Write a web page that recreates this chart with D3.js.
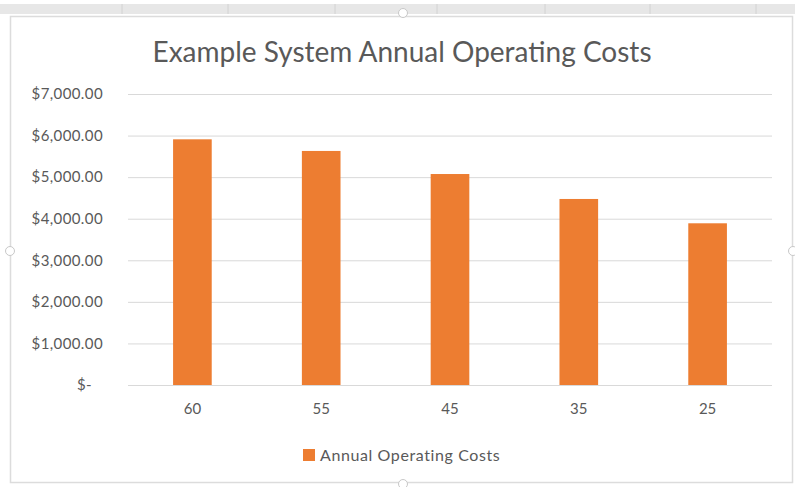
<!DOCTYPE html>
<html>
<head>
<meta charset="utf-8">
<script src="https://cdn.jsdelivr.net/npm/d3@7"></script>
<style>
  body { margin: 0; background: #fff; }
  svg { display: block; }
</style>
</head>
<body>
<div id="chart"></div>
<script>
// chart data
var categories = ["60", "55", "45", "35", "25"];
var costs = [5910, 5630, 5075, 4475, 3890];
var yTicks = [0, 1000, 2000, 3000, 4000, 5000, 6000, 7000];
var seriesName = "Annual Operating Costs";
var title = "Example System Annual Operating Costs";

var svgWidth = 795;
var svgHeight = 487;

var margin = { top: 94, right: 23, bottom: 102, left: 128 };
var width = svgWidth - margin.left - margin.right;
var height = svgHeight - margin.top - margin.bottom;

var svg = d3.select("#chart")
  .append("svg")
  .attr("width", svgWidth)
  .attr("height", svgHeight)
  .style("font-family", "Lato, 'Open Sans', sans-serif");

// spreadsheet strip behind the chart
svg.append("rect")
  .attr("x", 0).attr("y", 4)
  .attr("width", svgWidth).attr("height", 10)
  .attr("fill", "#e7e7e7");
[122, 228, 335, 437, 545, 650, 756].forEach(function(x) {
  svg.append("line")
    .attr("x1", x).attr("x2", x).attr("y1", 4).attr("y2", 14)
    .attr("stroke", "#d2d2d2");
});

// chart frame
svg.append("rect")
  .attr("x", 10.5).attr("y", 16.5)
  .attr("width", 782).attr("height", 466)
  .attr("fill", "#fff")
  .attr("stroke", "#dcdcdc")
  .attr("stroke-width", 1.5);

// selection handles
[[403, 13], [10, 251], [793, 251], [403, 484]].forEach(function(p) {
  svg.append("circle")
    .attr("cx", p[0]).attr("cy", p[1]).attr("r", 4.5)
    .attr("fill", "#fff")
    .attr("stroke", "#c8c8c8");
});

var chartGroup = svg.append("g")
  .attr("transform", `translate(${margin.left}, ${margin.top})`);

var xScale = d3.scaleBand()
  .domain(categories)
  .range([0, width])
  .paddingInner(0.7)
  .paddingOuter(0.35);

var yScale = d3.scaleLinear()
  .domain([0, 7000])
  .range([height, 0]);

// gridlines
chartGroup.selectAll(".grid")
  .data(yTicks)
  .enter()
  .append("line")
  .attr("class", "grid")
  .attr("x1", 0)
  .attr("x2", width)
  .attr("y1", d => yScale(d) + 0.5)
  .attr("y2", d => yScale(d) + 0.5)
  .attr("stroke", "#d9d9d9")
  .attr("stroke-width", 1);

// y axis labels
var fmt = d3.format("$,.2f");
var leftAxis = d3.axisLeft(yScale)
  .tickValues(yTicks)
  .tickSize(0)
  .tickPadding(25)
  .tickFormat(d => d === 0 ? "$-" : fmt(d));

var yAxis = chartGroup.append("g").call(leftAxis);
yAxis.select(".domain").remove();
yAxis.selectAll("text")
  .attr("fill", "#595959")
  .style("font-size", "15px")
  .style("letter-spacing", "0.4px")
  .style("font-family", "Lato, 'Open Sans', sans-serif")
  .attr("dx", d => d === 0 ? -11 : 0);

// bars
chartGroup.selectAll(".bar")
  .data(costs)
  .enter()
  .append("rect")
  .attr("class", "bar")
  .attr("x", (d, i) => xScale(categories[i]))
  .attr("y", d => yScale(d))
  .attr("width", xScale.bandwidth())
  .attr("height", d => height - yScale(d))
  .attr("fill", "#ED7D31");

// x axis labels
var bottomAxis = d3.axisBottom(xScale).tickSize(0).tickPadding(18);
var xAxis = chartGroup.append("g")
  .attr("transform", `translate(0, ${height})`)
  .call(bottomAxis);
xAxis.select(".domain").remove();
xAxis.selectAll("text")
  .attr("fill", "#595959")
  .style("font-size", "15px")
  .style("font-family", "Lato, 'Open Sans', sans-serif");

// title
svg.append("text")
  .attr("x", 402)
  .attr("y", 62)
  .attr("text-anchor", "middle")
  .attr("fill", "#595959")
  .style("font-size", "28px")
  .text(title);

// legend
var legend = svg.append("g").attr("transform", "translate(303, 448)");
legend.append("rect")
  .attr("x", 0).attr("y", 1)
  .attr("width", 12).attr("height", 12)
  .attr("fill", "#ED7D31");
legend.append("text")
  .attr("x", 17)
  .attr("y", 7)
  .attr("dy", "0.35em")
  .attr("fill", "#595959")
  .style("font-size", "16px")
  .style("letter-spacing", "0.6px")
  .text(seriesName);
</script>
</body>
</html>
